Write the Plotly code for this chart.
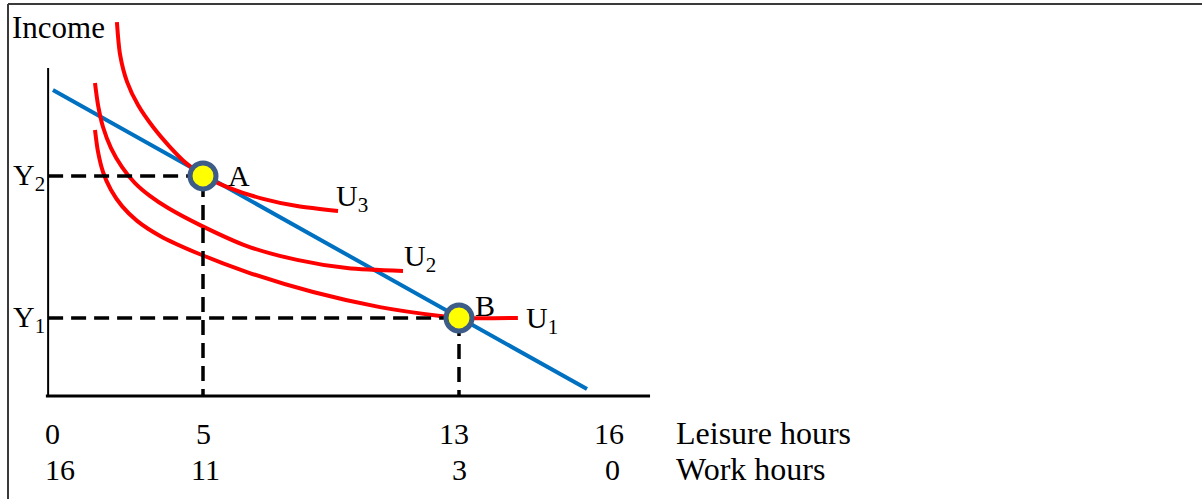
import plotly.graph_objects as go

# ---------------- data ----------------
leisure_ticks = ["0", "5", "13", "16"]
work_ticks = ["16", "11", "3", "0"]
leisure_title = "Leisure hours"
work_title = "Work hours"
y_title = "Income"

# budget line (leisure hours, income in arbitrary units)
budget_h = [0.31, 17.0]
budget_inc = [93.3, 2.1]

# indifference curves
u3_h = [2.31, 2.41, 2.63, 2.97, 3.44, 3.97, 4.47, 4.97, 5.84, 6.88, 7.94, 9.22]
u3_inc = [114.0, 104.0, 95.7, 88.7, 82.0, 75.9, 71.0, 67.4, 63.4, 60.1, 57.9, 56.4]

u2_h = [1.625, 1.72, 1.875, 2.125, 2.47, 2.875, 3.34, 3.91, 4.91, 6.375, 7.94, 9.5, 11.25]
u2_inc = [95.4, 88.7, 82.0, 75.6, 69.8, 64.9, 61.0, 57.3, 52.1, 45.7, 41.5, 39.0, 38.1]

u1_h = [1.625, 1.72, 1.875, 2.125, 2.47, 2.94, 3.66, 4.81, 6.375, 8.44, 10.53, 12.41, 13.03, 14.84]
u1_inc = [81.1, 74.4, 68.3, 62.8, 57.9, 53.4, 48.8, 43.6, 37.8, 31.7, 27.1, 24.4, 23.8, 23.8]

curve_names = ["U<sub>3</sub>", "U<sub>2</sub>", "U<sub>1</sub>"]

# equilibrium points
point_names = ["A", "B"]
point_h = [5.0, 13.0]
point_inc = [67.1, 23.8]
level_names = ["Y<sub>2</sub>", "Y<sub>1</sub>"]

# axis extents
axis_origin_h = 0.16
axis_end_h = 18.97
axis_top_inc = 100.0

# ---------------- layout helpers (pixels) ----------------
W, H = 1202, 499
L, R, T, B = 40, 551, 8, 95
PX_PER_H = 32.0
PX_PER_INC = 3.28
X0_PX, Y0_PX = 43.0, 396.0          # pixel of (0, 0)
x_range = [(L - X0_PX) / PX_PER_H, (W - R - X0_PX) / PX_PER_H]
y_range = [(Y0_PX - (H - B)) / PX_PER_INC, (Y0_PX - T) / PX_PER_INC]


def pxx(px):
    return (px - L) / (W - L - R)


def pxy(py):
    return ((H - B) - py) / (H - T - B)


SERIF = "Liberation Serif, Times New Roman, serif"
RED = "#FF0000"
BLUE = "#0070C0"

fig = go.Figure()

# budget line
fig.add_trace(go.Scatter(x=budget_h, y=budget_inc, mode="lines",
                         line=dict(color=BLUE, width=4), hoverinfo="skip"))

# indifference curves
for hs, inc in [(u3_h, u3_inc), (u2_h, u2_inc), (u1_h, u1_inc)]:
    fig.add_trace(go.Scatter(x=hs, y=inc, mode="lines",
                             line=dict(color=RED, width=4, shape="spline", smoothing=0.8),
                             hoverinfo="skip"))

# dashed guide lines
for h, inc in zip(point_h, point_inc):
    fig.add_trace(go.Scatter(x=[axis_origin_h, h, h], y=[inc, inc, 0],
                             mode="lines",
                             line=dict(color="black", width=3.5, dash="15px,8px"),
                             hoverinfo="skip"))

# points
fig.add_trace(go.Scatter(x=point_h, y=point_inc, mode="markers",
                         marker=dict(size=26, color="#FFFF00",
                                     line=dict(color="#3E5C88", width=5)),
                         hoverinfo="skip"))

shapes = [
    # axes
    dict(type="line", xref="x", yref="y", x0=axis_origin_h, x1=axis_origin_h,
         y0=0, y1=axis_top_inc, line=dict(color="black", width=2)),
    dict(type="line", xref="x", yref="y", x0=0.09, x1=axis_end_h,
         y0=0, y1=0, line=dict(color="black", width=3)),
    # frame of the figure box
    dict(type="line", xref="paper", yref="paper", x0=pxx(8), x1=pxx(1202),
         y0=pxy(4), y1=pxy(4), line=dict(color="#3a3a3a", width=2)),
    dict(type="line", xref="paper", yref="paper", x0=pxx(8), x1=pxx(8),
         y0=pxy(4), y1=pxy(499), line=dict(color="#3a3a3a", width=2)),
]

ann = []


def add_text(text, px, py, size, xanchor="left"):
    ann.append(dict(text=text, xref="paper", yref="paper", x=pxx(px), y=pxy(py),
                    xanchor=xanchor, yanchor="middle", showarrow=False,
                    font=dict(family=SERIF, size=size, color="black")))


add_text(y_title, 10, 28, 31)
# level labels Y2, Y1
for name, inc in zip(level_names, point_inc):
    add_text(name, 11, Y0_PX - inc * PX_PER_INC + 1, 30)
# point labels
add_text(point_names[0], 226, 175, 30)
add_text(point_names[1], 473, 305, 30)
# curve labels
add_text(curve_names[0], 334, 198, 30)
add_text(curve_names[1], 402, 258, 30)
add_text(curve_names[2], 524, 320, 30)

# bottom tick labels
row1_px = [52, 203, 454, 609]
row2_px = [60, 205, 459, 612]
for t, px in zip(leisure_ticks, row1_px):
    add_text(t, px, 433, 30, xanchor="center")
for t, px in zip(work_ticks, row2_px):
    add_text(t, px, 469, 30, xanchor="center")
add_text(leisure_title, 674, 433, 32)
add_text(work_title, 674, 469, 32)

fig.update_layout(
    width=W, height=H,
    margin=dict(l=L, r=R, t=T, b=B, pad=0),
    paper_bgcolor="white", plot_bgcolor="white",
    showlegend=False,
    xaxis=dict(range=x_range, visible=False, fixedrange=True),
    yaxis=dict(range=y_range, visible=False, fixedrange=True),
    shapes=shapes,
    annotations=ann,
)

fig.write_html("out.html", config={"displayModeBar": False},
               post_script="document.body.style.margin='0';")
